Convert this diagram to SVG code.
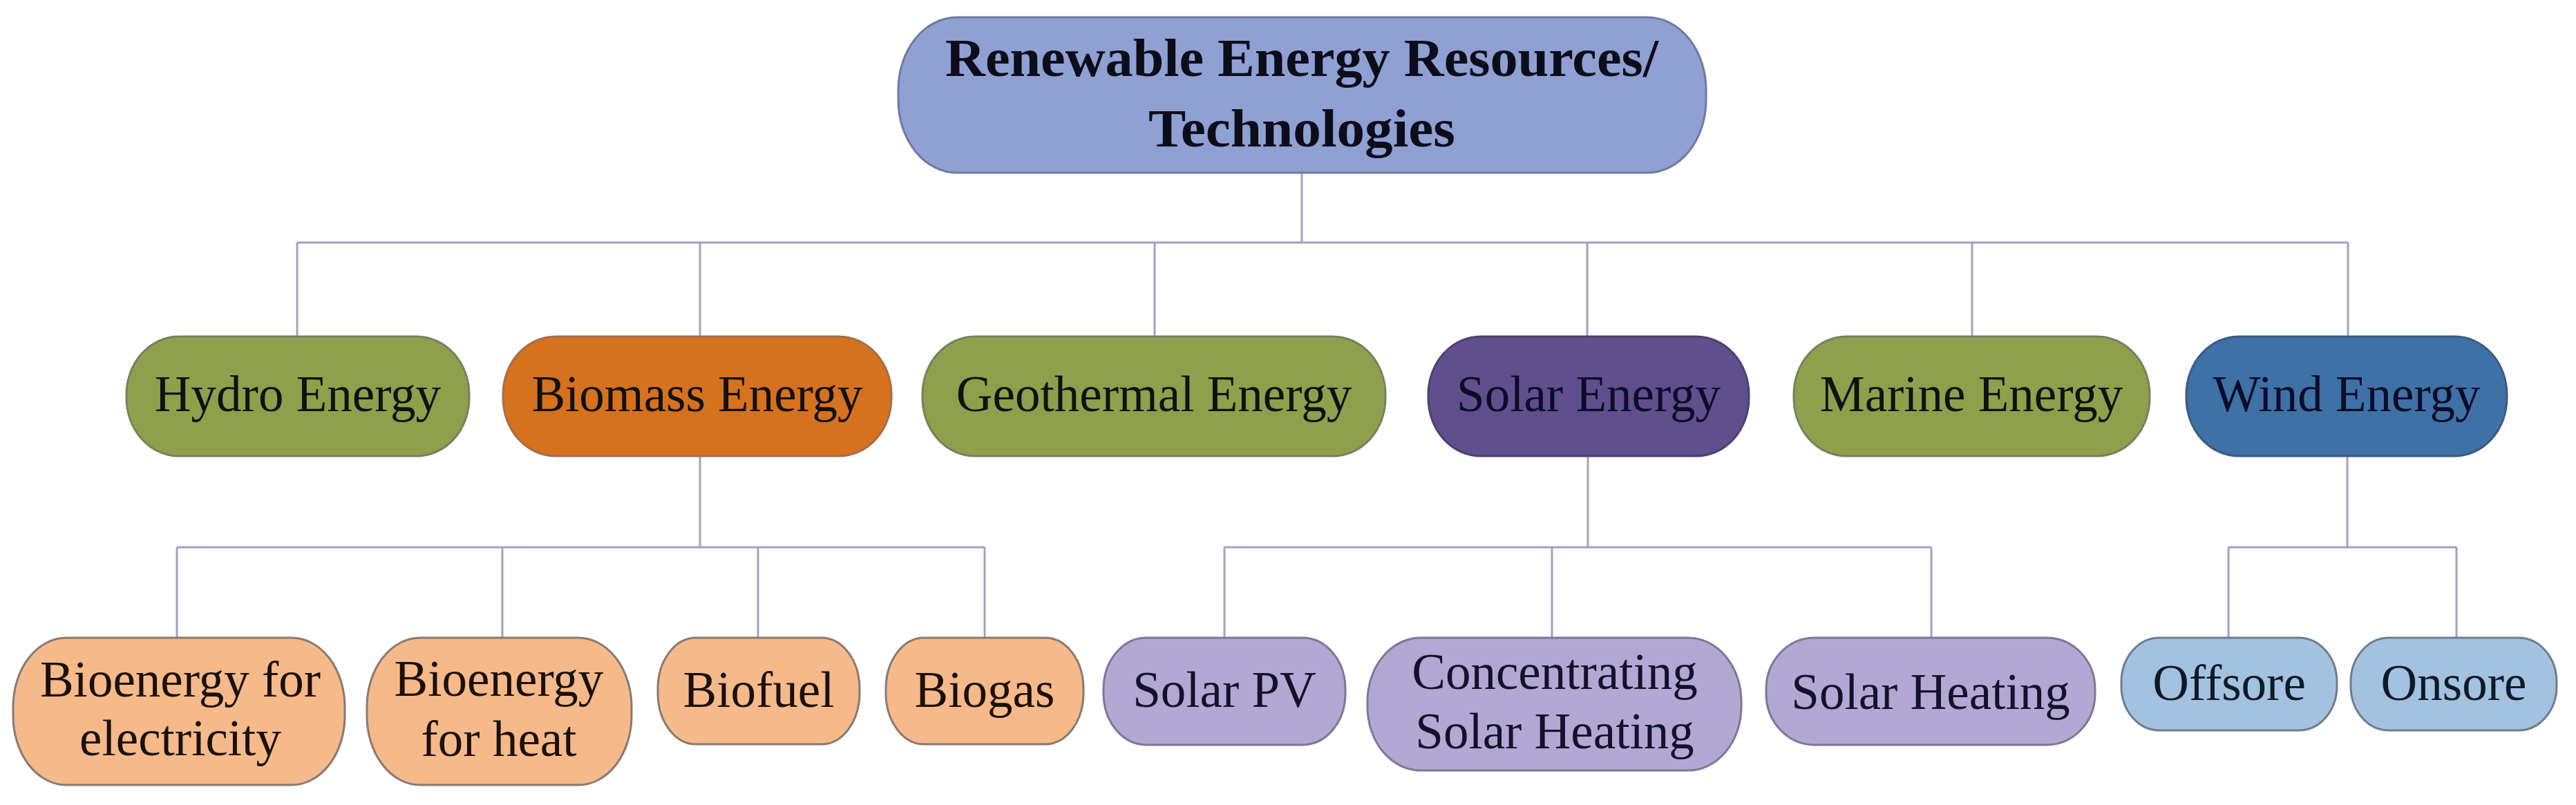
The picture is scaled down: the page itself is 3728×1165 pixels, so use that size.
<svg xmlns="http://www.w3.org/2000/svg" width="3728" height="1165" viewBox="0 0 3728 1165">
<style>
  .n text { font-family: "Liberation Serif", "Times New Roman", serif; font-size: 73px; text-anchor: middle; fill: #111; }
  .n rect { stroke-width: 3; }
  .root text { font-weight: bold; font-size: 78px; fill: #0d0d1a; }
  .root rect { fill: #8FA0D3; stroke: #6F7AA3; }
  .olive rect { fill: #8EA04B; stroke: #76805F; }
  .orange rect { fill: #D6711D; stroke: #A36E4C; }
  .purple rect { fill: #5F4F8D; stroke: #4A4170; }
  .purple text, .blue text { fill: #0c0c26; }
  .blue rect { fill: #3E71A6; stroke: #3B5A88; }
  .peach rect { fill: #F5B98A; stroke: #877A72; }
  .peach text { fill: #1a1008; }
  .lav rect { fill: #B2A8D3; stroke: #7B7898; }
  .lav text { fill: #14122a; }
  .lblue rect { fill: #A2C2E0; stroke: #6E7C91; }
  .lblue text { fill: #0d1a26; }
  #connectors path { fill: none; stroke: #A59EC6; stroke-width: 3; }
</style>
<rect width="3728" height="1165" fill="#ffffff"/>
<g id="connectors">
  <path d="M1884 250 V351 M430 351 H3398 M430 351 V487 M1013 351 V487 M1671 351 V487 M2297 351 V487 M2854 351 V487 M3398 351 V487"/>
  <path d="M1013 660 V792 M256 792 H1425 M256 792 V923 M727 792 V923 M1097 792 V923 M1425 792 V923"/>
  <path d="M2298 660 V792 M1772 792 H2795 M1772 792 V923 M2246 792 V923 M2795 792 V923"/>
  <path d="M3397 660 V792 M3225 792 H3555 M3225 792 V923 M3555 792 V923"/>
</g>
<g id="root" class="n root">
  <rect x="1300" y="25" width="1169" height="225" rx="85" ry="105"/>
  <text x="1884" y="110" textLength="1032" lengthAdjust="spacingAndGlyphs">Renewable Energy Resources/</text>
  <text x="1884" y="212" textLength="444" lengthAdjust="spacingAndGlyphs">Technologies</text>
</g>
<g id="hydro" class="n olive">
  <rect x="183" y="487" width="496" height="173" rx="76" ry="84"/>
  <text x="431" y="595">Hydro Energy</text>
</g>
<g id="biomass" class="n orange">
  <rect x="728" y="487" width="562" height="173" rx="76" ry="84"/>
  <text x="1009" y="595">Biomass Energy</text>
</g>
<g id="geothermal" class="n olive">
  <rect x="1335" y="487" width="670" height="173" rx="76" ry="84"/>
  <text x="1670" y="595">Geothermal Energy</text>
</g>
<g id="solar" class="n purple">
  <rect x="2067" y="487" width="464" height="173" rx="76" ry="84"/>
  <text x="2299" y="595">Solar Energy</text>
</g>
<g id="marine" class="n olive">
  <rect x="2596" y="487" width="515" height="173" rx="76" ry="84"/>
  <text x="2853" y="595">Marine Energy</text>
</g>
<g id="wind" class="n blue">
  <rect x="3164" y="487" width="464" height="173" rx="76" ry="84"/>
  <text x="3396" y="595">Wind Energy</text>
</g>
<g id="bio-electricity" class="n peach">
  <rect x="19" y="923" width="480" height="213" rx="77" ry="100"/>
  <text x="261" y="1008">Bioenergy for</text>
  <text x="261" y="1093">electricity</text>
</g>
<g id="bio-heat" class="n peach">
  <rect x="531" y="923" width="383" height="213" rx="77" ry="100"/>
  <text x="722" y="1007">Bioenergy</text>
  <text x="722" y="1094">for heat</text>
</g>
<g id="biofuel" class="n peach">
  <rect x="952" y="923" width="292" height="154" rx="55" ry="74"/>
  <text x="1098" y="1023">Biofuel</text>
</g>
<g id="biogas" class="n peach">
  <rect x="1282" y="923" width="286" height="154" rx="55" ry="74"/>
  <text x="1425" y="1023">Biogas</text>
</g>
<g id="solar-pv" class="n lav">
  <rect x="1597" y="923" width="350" height="155" rx="62" ry="74"/>
  <text x="1772" y="1023">Solar PV</text>
</g>
<g id="csh" class="n lav">
  <rect x="1979" y="923" width="541" height="192" rx="77" ry="92"/>
  <text x="2250" y="997">Concentrating</text>
  <text x="2250" y="1083">Solar Heating</text>
</g>
<g id="solar-heating" class="n lav">
  <rect x="2556" y="923" width="476" height="155" rx="70" ry="74"/>
  <text x="2794" y="1026">Solar Heating</text>
</g>
<g id="offsore" class="n lblue">
  <rect x="3070" y="923" width="312" height="134" rx="55" ry="64"/>
  <text x="3226" y="1013">Offsore</text>
</g>
<g id="onsore" class="n lblue">
  <rect x="3402" y="923" width="298" height="134" rx="55" ry="64"/>
  <text x="3551" y="1013">Onsore</text>
</g>
</svg>
